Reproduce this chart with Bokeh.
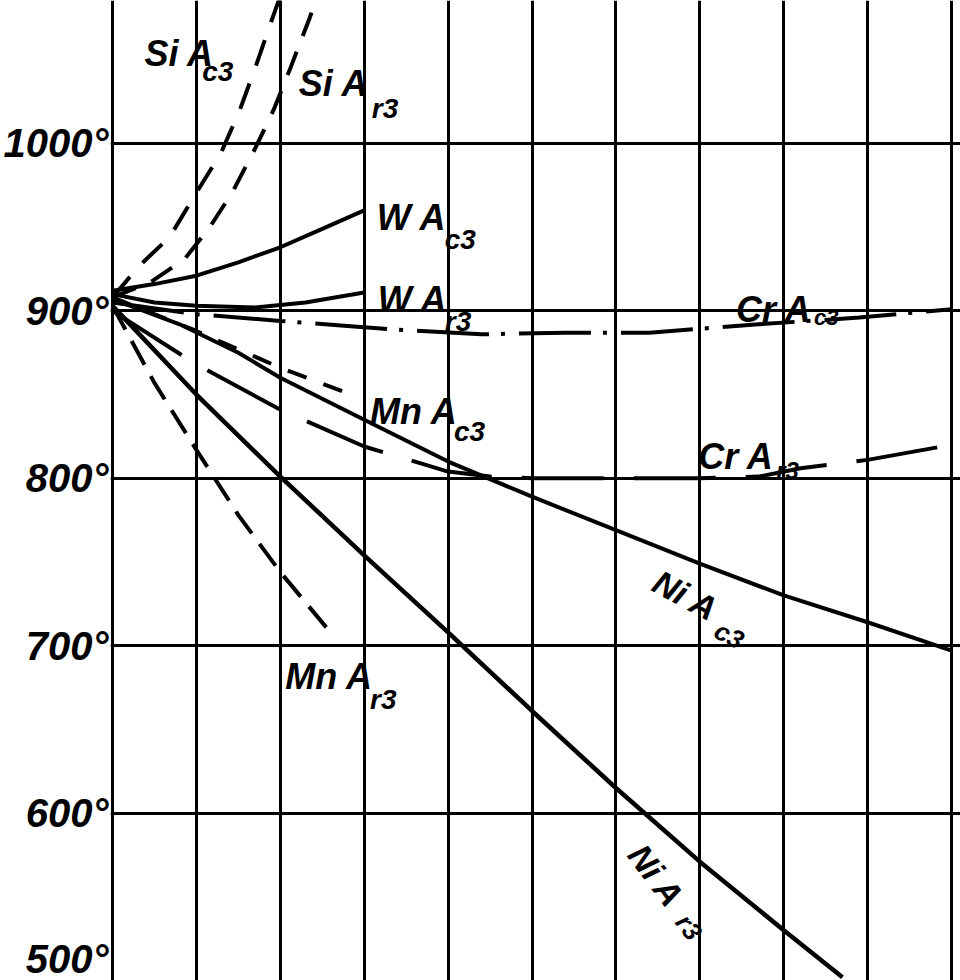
import math
from bokeh.plotting import figure
from bokeh.models import Range1d, FixedTicker, ColumnDataSource
from bokeh.core.properties import value
from bokeh.embed import file_html
from bokeh.resources import INLINE

# ---- data (x: alloy content in %, t: temperature in °C) ----
x_ticks = [0, 1, 2, 3, 4, 5, 6, 7, 8, 9, 10]
y_ticks = [500, 600, 700, 800, 900, 1000]
y_tick_labels = ["500°", "600°", "700°", "800°", "900°", "1000°"]

si_ac3_x = [0, 0.32, 0.68, 0.98, 1.29, 1.51, 1.70, 1.90, 2.00]
si_ac3_t = [908, 927, 944, 969, 994, 1019, 1045, 1074, 1088]

si_ar3_x = [0, 0.45, 0.86, 1.16, 1.43, 1.70, 1.92, 2.12, 2.35, 2.42]
si_ar3_t = [908, 917, 931, 950, 971, 997, 1020, 1045, 1075, 1085]

w_ac3_x = [0, 0.5, 1, 1.5, 2, 2.5, 3]
w_ac3_t = [912, 916, 921, 929, 938, 949, 960]

w_ar3_x = [0, 0.5, 1, 1.7, 2.3, 3]
w_ar3_t = [910, 905, 903, 902, 905, 911]

cr_ac3_x = [0, 1, 2, 2.8, 3.3, 4.4, 5.4, 6.4, 7.7, 8.9, 10]
cr_ac3_t = [905, 898, 894, 891, 889, 886, 887, 887, 892, 896, 901]

cr_ar3_x = [0, 1, 2, 3, 4, 4.5, 5, 6, 7, 7.7, 8.2, 9, 10]
cr_ar3_t = [900, 868, 841, 819, 804, 801, 800, 800, 800, 801, 806, 811, 820]

mn_ac3_x = [0, 1, 2, 2.9]
mn_ac3_t = [908, 888, 866, 849]

mn_ar3_x = [0, 0.5, 1, 1.5, 2, 2.58]
mn_ar3_t = [903, 857, 817, 778, 744, 709]

ni_ac3_x = [0, 0.8, 1.5, 2, 3, 4, 5, 6, 7, 8, 9, 10]
ni_ac3_t = [907, 892, 875, 860, 835, 810, 789, 769, 749, 730, 714, 697]

ni_ar3_x = [0, 1, 2, 3, 4, 5, 6, 7, 8, 8.7]
ni_ar3_t = [903, 850, 801, 754, 708, 661, 615, 571, 530, 502]

# curve labels: element + "A", subscript "c3"/"r3"
lab_text = ["Si A", "Si A", "W A", "W A", "Mn A", "Mn A", "Cr A", "Cr A"]
lab_x = [0.38, 2.22, 3.15, 3.16, 3.07, 2.06, 7.43, 6.98]
lab_t = [1054, 1035.6, 955.5, 906.8, 839.8, 681.3, 900.9, 813.1]
sub_text = ["c3", "r3", "c3", "r3", "c3", "r3", "c3", "r3"]
sub_x = [1.07, 3.09, 3.96, 3.96, 4.07, 3.07, 8.36, 7.91]
sub_t = [1043, 1020.8, 942.4, 893.8, 827.9, 667.7, 896.1, 804.7]
sub_size = ["28px", "28px", "28px", "28px", "28px", "28px", "22px", "24px"]

rot_text = ["Ni A", "Ni A"]
rot_x = [6.83, 6.48]
rot_t = [730, 562.6]
rot_deg = [-28, -53]
rot_sub_text = ["c3", "r3"]
rot_sub_x = [7.35, 6.87]
rot_sub_t = [706.2, 531.8]

# ---- figure ----
p = figure(width=960, height=980,
           x_range=Range1d(-0.0238, 10.107), y_range=Range1d(500, 1085.4),
           output_backend="svg", toolbar_location=None,
           min_border_left=108, min_border_right=0,
           min_border_top=0, min_border_bottom=0)
p.outline_line_color = None
p.background_fill_color = "white"
p.border_fill_color = "white"

p.xaxis.visible = False
p.yaxis.ticker = FixedTicker(ticks=y_ticks)
p.yaxis.major_label_overrides = {t: l for t, l in zip(y_ticks, y_tick_labels)}
p.yaxis.axis_line_color = None
p.yaxis.major_tick_line_color = None
p.yaxis.minor_tick_line_color = None
p.yaxis.major_tick_out = 0
p.yaxis.major_tick_in = 0
p.yaxis.major_label_standoff = 2
p.yaxis.major_label_text_font = "Liberation Sans"
p.yaxis.major_label_text_font_style = "bold italic"
p.yaxis.major_label_text_font_size = "40px"
p.yaxis.major_label_text_color = "black"

p.xgrid.ticker = FixedTicker(ticks=x_ticks)
p.ygrid.ticker = FixedTicker(ticks=y_ticks)
for g in (p.xgrid, p.ygrid):
    g.grid_line_color = "black"
    g.grid_line_width = 3
    g.grid_line_alpha = 1.0

# ---- curves ----
p.line(si_ac3_x, si_ac3_t, line_color="black", line_width=4, line_dash="27 19")
p.line(si_ar3_x, si_ar3_t, line_color="black", line_width=4, line_dash="25 17")
p.line(w_ac3_x, w_ac3_t, line_color="black", line_width=4)
p.line(w_ar3_x, w_ar3_t, line_color="black", line_width=4)
p.line(cr_ac3_x, cr_ac3_t, line_color="black", line_width=4, line_dash="72 12 4 14")
p.line(cr_ar3_x, cr_ar3_t, line_color="black", line_width=4, line_dash="82 30")
p.line(mn_ac3_x, mn_ac3_t, line_color="black", line_width=4, line_dash="20 18")
p.line(mn_ar3_x, mn_ar3_t, line_color="black", line_width=4, line_dash="27 13")
p.line(ni_ac3_x, ni_ac3_t, line_color="black", line_width=4)
p.line(ni_ar3_x, ni_ar3_t, line_color="black", line_width=4.5)

# ---- labels ----
src_lab = ColumnDataSource(dict(x=lab_x, y=lab_t, text=lab_text))
p.text(x="x", y="y", text="text", source=src_lab,
       text_font=value("Liberation Sans"), text_font_style="bold italic",
       text_font_size="36px", text_color="black",
       text_align="left", text_baseline="alphabetic")

src_sub = ColumnDataSource(dict(x=sub_x, y=sub_t, text=sub_text, size=sub_size))
p.text(x="x", y="y", text="text", source=src_sub,
       text_font=value("Liberation Sans"), text_font_style="bold italic",
       text_font_size="size", text_color="black",
       text_align="left", text_baseline="alphabetic")

rot_rad = [math.radians(d) for d in rot_deg]
src_rot = ColumnDataSource(dict(x=rot_x, y=rot_t, text=rot_text, angle=rot_rad))
p.text(x="x", y="y", text="text", angle="angle", source=src_rot,
       text_font=value("Liberation Sans"), text_font_style="bold italic",
       text_font_size="34px", text_color="black",
       text_align="center", text_baseline="middle")

src_rsub = ColumnDataSource(dict(x=rot_sub_x, y=rot_sub_t, text=rot_sub_text, angle=rot_rad))
p.text(x="x", y="y", text="text", angle="angle", source=src_rsub,
       text_font=value("Liberation Sans"), text_font_style="bold italic",
       text_font_size="26px", text_color="black",
       text_align="center", text_baseline="middle")

open("out.html", "w").write(file_html(p, INLINE))
